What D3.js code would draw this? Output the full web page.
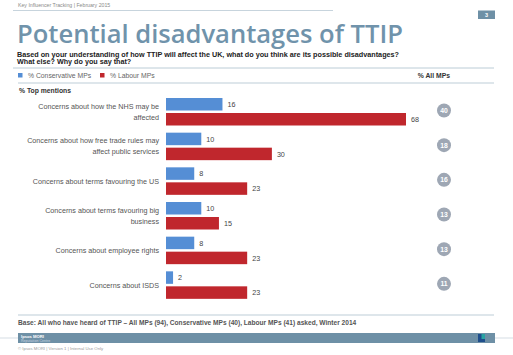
<!DOCTYPE html>
<html><head><meta charset="utf-8">
<script src="https://cdn.jsdelivr.net/npm/d3@7"></script>
<style>body{margin:0;background:#fff}svg{display:block}text{font-family:"Liberation Sans",Arial,sans-serif}</style>
</head><body>
<script>
const categories = [
  ["Concerns about how the NHS may be", "affected"],
  ["Concerns about how free trade rules may", "affect public services"],
  ["Concerns about terms favouring the US"],
  ["Concerns about terms favouring big", "business"],
  ["Concerns about employee rights"],
  ["Concerns about ISDS"]
];
const conservative = [16, 10, 8, 10, 8, 2];
const labour = [68, 30, 23, 15, 23, 23];
const allMPs = [40, 18, 16, 13, 13, 11];
const seriesNames = ["% Conservative MPs", "% Labour MPs"];

const W = 513, H = 355;
const svg = d3.select("body").append("svg").attr("width", W).attr("height", H);
const defs = svg.append("defs");
const g1 = defs.append("linearGradient").attr("id","rowline").attr("x1","0").attr("x2","1").attr("y1","0").attr("y2","0");
[[0,"#e3e7ec"],[0.35,"#edf0f3"],[0.55,"#ffffff"],[0.72,"#a9b3c0"],[0.85,"#e4e8ed"],[1,"#97a1af"]].forEach(s=>g1.append("stop").attr("offset",s[0]).attr("stop-color",s[1]));

// header
svg.append("text").attr("x",18).attr("y",7).attr("font-size",5.2).attr("fill","#8a8a8a").text("Key Influencer Tracking  |  February 2015");
svg.append("line").attr("x1",13).attr("x2",333).attr("y1",10.5).attr("y2",10.5).attr("stroke","#b9c9d4").attr("stroke-width",0.8);
svg.append("rect").attr("x",478).attr("y",10.5).attr("width",17).attr("height",8.5).attr("fill","#6e90a6");
svg.append("text").attr("x",486.5).attr("y",17).attr("text-anchor","middle").attr("font-size",5.5).attr("font-weight","bold").attr("fill","#fff").text("3");

svg.append("text").attr("x",17).attr("y",42.5).attr("font-size",26).attr("font-weight",600).attr("fill","#7093ab")
  .attr("textLength",386).attr("lengthAdjust","spacingAndGlyphs")
  .style("font-family","'Open Sans',sans-serif").text("Potential disadvantages of TTIP");
svg.append("text").attr("x",17).attr("y",56.5).attr("font-size",7.2).attr("font-weight","bold").attr("fill","#222")
  .attr("textLength",382).attr("lengthAdjust","spacingAndGlyphs")
  .text("Based on your understanding of how TTIP will affect the UK, what do you think are its possible disadvantages?");
svg.append("text").attr("x",17).attr("y",64).attr("font-size",7.2).attr("font-weight","bold").attr("fill","#222")
  .text("What else? Why do you say that?");
svg.append("line").attr("x1",13).attr("x2",494).attr("y1",68).attr("y2",68).attr("stroke","#a9bfcc").attr("stroke-width",0.8);

// legend
const colors = ["#558ed5", "#c0272d"];
const legX = [18, 100];
seriesNames.forEach((n,i)=>{
  svg.append("rect").attr("x",legX[i]).attr("y",73).attr("width",4.5).attr("height",4.5).attr("fill",colors[i]);
  svg.append("text").attr("x",legX[i]+10).attr("y",78).attr("font-size",6.8).attr("fill","#666").text(n);
});
svg.append("text").attr("x",450).attr("y",78).attr("text-anchor","end").attr("font-size",6.8).attr("font-weight","bold").attr("fill","#333").text("% All MPs");
svg.append("line").attr("x1",18).attr("x2",494).attr("y1",83).attr("y2",83).attr("stroke","#b5c7d2").attr("stroke-width",0.9);
svg.append("text").attr("x",19).attr("y",93).attr("font-size",6.8).attr("font-weight","bold").attr("fill","#333").text("% Top mentions");

// scales
const x = d3.scaleLinear().domain([0,68]).range([166,406]);
const y = d3.scaleBand().domain(d3.range(categories.length)).range([98,306]).paddingInner(0).paddingOuter(0);
const barH = 12.5, gap = 2.5;

const rows = svg.append("g").selectAll("g").data(categories).join("g")
  .attr("transform",(d,i)=>`translate(0,${y(i)})`);

rows.append("line").attr("x1",166).attr("x2",438).attr("y1",barH).attr("y2",barH)
  .attr("stroke","url(#rowline)").attr("stroke-width",1);

rows.each(function(d,i){
  const r = d3.select(this);
  const cy = barH + gap/2;
  d.forEach((t,k)=>{
    const off = d.length===1 ? 0 : (k===0 ? -5.5 : 5.5);
    r.append("text").attr("x",159).attr("y",cy+off+2.5).attr("text-anchor","end")
      .attr("font-size",7.2).attr("fill","#555").text(t);
  });
  const vals = [conservative[i], labour[i]];
  vals.forEach((v,k)=>{
    const yy = k===0 ? 0 : barH+gap;
    r.append("rect").attr("x",x(0)).attr("y",yy).attr("width",x(v)-x(0)).attr("height",barH).attr("fill",colors[k]);
    r.append("text").attr("x",x(v)+5).attr("y",yy+barH/2+2.6).attr("font-size",7.2).attr("fill","#444").text(v);
  });
  r.append("circle").attr("cx",444).attr("cy",barH).attr("r",7).attr("fill","#9ea7b4");
  r.append("text").attr("x",444).attr("y",barH+2.5).attr("text-anchor","middle").attr("font-size",6.8)
    .attr("font-weight","bold").attr("fill","#fff").text(allMPs[i]);
});

// footer
svg.append("line").attr("x1",18).attr("x2",494).attr("y1",315).attr("y2",315).attr("stroke","#b5c7d2").attr("stroke-width",0.9);
svg.append("text").attr("x",18).attr("y",324.5).attr("font-size",6.6).attr("font-weight","bold").attr("fill","#555")
  .text("Base: All who have heard of TTIP \u2013 All MPs (94), Conservative MPs (40), Labour MPs (41) asked, Winter 2014");
svg.append("line").attr("x1",0).attr("x2",513).attr("y1",338).attr("y2",338).attr("stroke","#c3cfd8").attr("stroke-width",0.7);
svg.append("rect").attr("x",18).attr("y",333).attr("width",477).attr("height",10).attr("fill","#6e90a6");
svg.append("text").attr("x",21).attr("y",337.5).attr("font-size",4.2).attr("font-weight","bold").attr("fill","#fff").text("Ipsos MORI");
svg.append("text").attr("x",21).attr("y",342).attr("font-size",3.6).attr("fill","#c8d6e0").text("Reputation Centre");
svg.append("rect").attr("x",478).attr("y",334).attr("width",7).attr("height",8).attr("fill","#1f4e8c");
svg.append("rect").attr("x",481.5).attr("y",334).attr("width",3.5).attr("height",5).attr("fill","#2aa3a3");
svg.append("text").attr("x",18).attr("y",350).attr("font-size",4.3).attr("fill","#999").text("\u00a9 Ipsos MORI  |  Version 1  |  Internal Use Only");
</script>
</body></html>
